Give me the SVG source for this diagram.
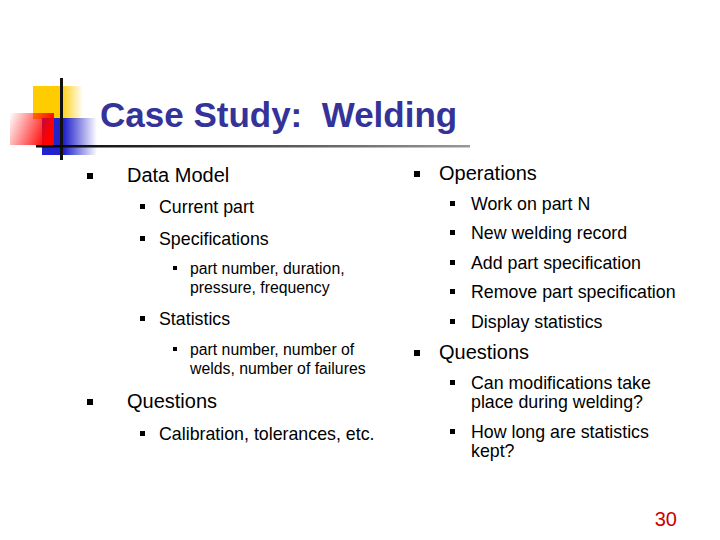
<svg xmlns="http://www.w3.org/2000/svg" width="720" height="540" viewBox="0 0 720 540">
<defs>
<linearGradient id="gy" x1="0" x2="1"><stop offset="0" stop-color="#ffcc00"/><stop offset="0.55" stop-color="#ffcc00"/><stop offset="1" stop-color="#ffcc00" stop-opacity="0"/></linearGradient>
<linearGradient id="gr" x1="0" x2="1" y1="0" y2="0.3"><stop offset="0" stop-color="#ff0000" stop-opacity="0"/><stop offset="1" stop-color="#ff0000"/></linearGradient>
<linearGradient id="gb" x1="0" x2="1"><stop offset="0" stop-color="#2222cc"/><stop offset="0.4" stop-color="#2222cc"/><stop offset="1" stop-color="#2222cc" stop-opacity="0"/></linearGradient>
<linearGradient id="gl" x1="0" x2="1"><stop offset="0" stop-color="#000"/><stop offset="1" stop-color="#999"/></linearGradient>
<style>
text{font-family:"Liberation Sans",Arial,sans-serif;fill:#000}
.l1{font-size:20px}.l2{font-size:17.8px}.l3{font-size:15.8px}
.b{fill:#000}
</style>
</defs>
<g id="logo">
<rect x="33" y="86" width="50" height="33" fill="url(#gy)"/>
<rect x="42" y="118" width="55" height="37" fill="url(#gb)"/>
<rect x="10" y="113" width="44" height="32" fill="url(#gr)"/>
<rect x="60" y="78" width="3" height="82" fill="#111"/>
<rect x="36" y="145" width="434" height="2.5" fill="url(#gl)"/>
</g>
<text x="100" y="127" xml:space="preserve" style="font-size:35px;font-weight:bold;fill:#333399">Case Study:  Welding</text>
<g id="left">
<rect class="b" x="87" y="173" width="6" height="6"/><text class="l1" x="127" y="182">Data Model</text>
<rect class="b" x="140" y="204" width="5" height="5"/><text class="l2" x="159" y="213">Current part</text>
<rect class="b" x="140" y="236" width="5" height="5"/><text class="l2" x="159" y="245">Specifications</text>
<rect class="b" x="173" y="266" width="4" height="4"/><text class="l3" x="190" y="274">part number, duration,</text><text class="l3" x="190" y="293">pressure, frequency</text>
<rect class="b" x="140" y="316" width="5" height="5"/><text class="l2" x="159" y="325">Statistics</text>
<rect class="b" x="173" y="347" width="4" height="4"/><text class="l3" x="190" y="355">part number, number of</text><text class="l3" x="190" y="374">welds, number of failures</text>
<rect class="b" x="87" y="399" width="6" height="6"/><text class="l1" x="127" y="408">Questions</text>
<rect class="b" x="140" y="431" width="5" height="5"/><text class="l2" x="159" y="440">Calibration, tolerances, etc.</text>
</g>
<g id="right">
<rect class="b" x="414" y="171" width="6" height="6"/><text class="l1" x="439" y="180">Operations</text>
<rect class="b" x="450" y="201" width="5" height="5"/><text class="l2" x="471" y="210">Work on part N</text>
<rect class="b" x="450" y="230" width="5" height="5"/><text class="l2" x="471" y="239">New welding record</text>
<rect class="b" x="450" y="260" width="5" height="5"/><text class="l2" x="471" y="269">Add part specification</text>
<rect class="b" x="450" y="289" width="5" height="5"/><text class="l2" x="471" y="298">Remove part specification</text>
<rect class="b" x="450" y="319" width="5" height="5"/><text class="l2" x="471" y="328">Display statistics</text>
<rect class="b" x="414" y="350" width="6" height="6"/><text class="l1" x="439" y="359">Questions</text>
<rect class="b" x="450" y="380" width="5" height="5"/><text class="l2" x="471" y="389">Can modifications take</text><text class="l2" x="471" y="408">place during welding?</text>
<rect class="b" x="450" y="429" width="5" height="5"/><text class="l2" x="471" y="438">How long are statistics</text><text class="l2" x="471" y="457">kept?</text>
</g>
<text x="677" y="526" text-anchor="end" style="font-size:20px;fill:#cc0000">30</text>
</svg>
